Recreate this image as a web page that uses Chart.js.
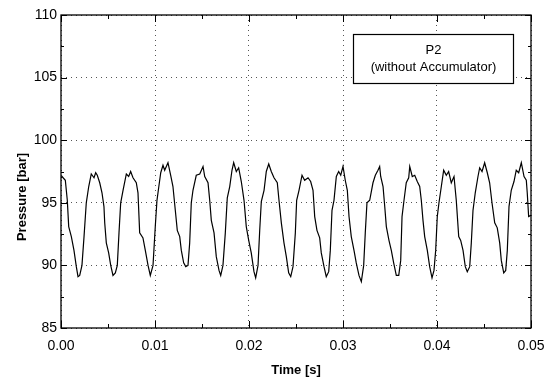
<!DOCTYPE html>
<html>
<head>
<meta charset="utf-8">
<script src="https://cdn.jsdelivr.net/npm/chart.js@4.4.0/dist/chart.umd.min.js"></script>
<style>
  html, body { margin: 0; padding: 0; background: #fff; }
  #wrap { width: 556px; height: 392px; }
</style>
</head>
<body>
<div id="wrap"><canvas id="chart" width="556" height="392"></canvas></div>
<script>
const timeS = [
  0.00000, 0.00011, 0.00046, 0.00067, 0.00082, 0.00110, 0.00138, 0.00163, 0.00181, 0.00199,
  0.00223, 0.00245, 0.00269, 0.00295, 0.00322, 0.00351, 0.00369, 0.00386, 0.00412, 0.00436,
  0.00457, 0.00465, 0.00482, 0.00507, 0.00529, 0.00553, 0.00578, 0.00599, 0.00617, 0.00635,
  0.00660, 0.00695, 0.00720, 0.00741, 0.00766, 0.00801, 0.00819, 0.00837, 0.00872, 0.00897,
  0.00926, 0.00950, 0.00979, 0.01003, 0.01021, 0.01039, 0.01061, 0.01085, 0.01103, 0.01138,
  0.01167, 0.01191, 0.01216, 0.01237, 0.01263, 0.01280, 0.01305, 0.01327, 0.01351, 0.01369,
  0.01386, 0.01404, 0.01439, 0.01476, 0.01511, 0.01529, 0.01564, 0.01582, 0.01599, 0.01628,
  0.01652, 0.01681, 0.01699, 0.01723, 0.01748, 0.01769, 0.01795, 0.01819, 0.01837, 0.01865,
  0.01890, 0.01918, 0.01947, 0.01971, 0.01997, 0.02024, 0.02053, 0.02071, 0.02096, 0.02114,
  0.02131, 0.02160, 0.02184, 0.02210, 0.02237, 0.02266, 0.02301, 0.02319, 0.02344, 0.02372,
  0.02397, 0.02422, 0.02444, 0.02468, 0.02493, 0.02507, 0.02532, 0.02564, 0.02592, 0.02628,
  0.02656, 0.02681, 0.02699, 0.02723, 0.02752, 0.02769, 0.02798, 0.02822, 0.02848, 0.02865,
  0.02883, 0.02904, 0.02929, 0.02954, 0.02976, 0.03000, 0.03024, 0.03046, 0.03064, 0.03088,
  0.03117, 0.03141, 0.03170, 0.03195, 0.03220, 0.03237, 0.03255, 0.03284, 0.03319, 0.03344,
  0.03372, 0.03390, 0.03401, 0.03426, 0.03444, 0.03461, 0.03489, 0.03514, 0.03539, 0.03567,
  0.03593, 0.03614, 0.03628, 0.03649, 0.03673, 0.03699, 0.03710, 0.03737, 0.03763, 0.03790,
  0.03816, 0.03833, 0.03851, 0.03869, 0.03897, 0.03922, 0.03947, 0.03968, 0.03986, 0.04003,
  0.04021, 0.04046, 0.04071, 0.04099, 0.04124, 0.04152, 0.04181, 0.04205, 0.04231, 0.04252,
  0.04277, 0.04301, 0.04322, 0.04348, 0.04365, 0.04383, 0.04407, 0.04436, 0.04454, 0.04479,
  0.04507, 0.04535, 0.04560, 0.04585, 0.04614, 0.04641, 0.04667, 0.04684, 0.04710, 0.04731,
  0.04748, 0.04766, 0.04790, 0.04819, 0.04843, 0.04869, 0.04897, 0.04926, 0.04950, 0.04960,
  0.04975, 0.05000
];
const pressureBar = [
  97.0, 97.1, 96.8, 95.2, 93.1, 92.3, 91.2, 89.9, 89.1, 89.2,
  90.0, 92.3, 95.0, 96.3, 97.3, 97.0, 97.4, 97.2, 96.6, 95.8,
  94.7, 93.4, 91.8, 91.0, 90.0, 89.2, 89.4, 90.0, 92.6, 95.0,
  96.0, 97.3, 97.1, 97.5, 97.0, 96.6, 95.8, 92.6, 92.2, 91.2,
  90.0, 89.2, 90.0, 93.1, 95.2, 96.2, 97.4, 98.0, 97.6, 98.2,
  97.2, 96.3, 94.4, 92.8, 92.3, 91.2, 90.2, 89.9, 90.0, 91.8,
  95.0, 96.0, 97.2, 97.3, 97.9, 97.1, 96.6, 95.2, 93.6, 92.6,
  90.7, 89.6, 89.2, 90.0, 92.6, 95.4, 96.3, 97.6, 98.2, 97.5,
  97.8, 96.7, 95.2, 93.1, 92.0, 91.0, 89.5, 89.0, 90.0, 92.8,
  95.1, 96.0, 97.5, 98.1, 97.5, 97.0, 96.6, 95.2, 93.4, 91.8,
  90.7, 89.4, 89.1, 89.9, 92.6, 95.2, 96.0, 97.2, 96.8, 97.0,
  96.7, 96.0, 93.9, 92.8, 92.2, 91.0, 89.9, 89.1, 89.5, 91.2,
  94.4, 95.2, 97.1, 97.5, 97.2, 97.9, 96.8, 96.0, 93.9, 92.3,
  91.2, 90.2, 89.2, 88.7, 90.0, 92.6, 95.0, 95.2, 96.6, 97.2,
  97.6, 97.9, 97.1, 96.3, 94.7, 93.1, 92.0, 91.2, 90.2, 89.2,
  89.2, 90.4, 93.9, 95.2, 96.6, 97.0, 97.9, 97.1, 97.2, 96.7,
  96.3, 95.2, 93.6, 92.3, 91.2, 89.9, 89.0, 89.6, 91.2, 93.9,
  95.0, 96.3, 97.6, 97.2, 97.5, 96.6, 97.1, 95.2, 92.3, 92.0,
  91.2, 89.9, 89.5, 89.9, 91.8, 94.4, 95.8, 97.1, 97.8, 97.5,
  98.2, 97.4, 96.6, 95.0, 93.4, 93.0, 91.8, 90.4, 89.4, 89.6,
  91.2, 94.7, 96.0, 96.7, 97.6, 97.4, 98.2, 97.1, 96.8, 95.8,
  93.9, 94.0
];

const xMajor = [0, 0.01, 0.02, 0.03, 0.04, 0.05];
const yMajor = [85, 90, 95, 100, 105, 110];
const legendLines = ["P2", "(without Accumulator)"];
const xTitle = "Time [s]";
const yTitle = "Pressure [bar]";

const FONT = "'Liberation Sans', Arial, sans-serif";

// frame, inward ticks, legend box and axis titles
const framePlugin = {
  id: 'frame',
  afterDraw(chart) {
    const { ctx, chartArea: a, scales } = chart;
    const xs = scales.x, ys = scales.y;
    ctx.save();
    ctx.strokeStyle = '#000';
    ctx.lineWidth = 1.3;
    ctx.strokeRect(a.left, a.top, a.right - a.left, a.bottom - a.top);

    ctx.lineWidth = 1;
    ctx.beginPath();
    for (let i = 0; i < xMajor.length; i++) {
      const px = Math.round(xs.getPixelForValue(xMajor[i])) + 0.5;
      ctx.moveTo(px, a.bottom); ctx.lineTo(px, a.bottom - 7);
      ctx.moveTo(px, a.top); ctx.lineTo(px, a.top + 7);
      if (i < xMajor.length - 1) {
        const mx = Math.round(xs.getPixelForValue((xMajor[i] + xMajor[i + 1]) / 2)) + 0.5;
        ctx.moveTo(mx, a.bottom); ctx.lineTo(mx, a.bottom - 4);
        ctx.moveTo(mx, a.top); ctx.lineTo(mx, a.top + 4);
      }
    }
    for (let i = 0; i < yMajor.length; i++) {
      const py = Math.round(ys.getPixelForValue(yMajor[i])) + 0.5;
      ctx.moveTo(a.left, py); ctx.lineTo(a.left + 6, py);
      ctx.moveTo(a.right, py); ctx.lineTo(a.right - 6, py);
      if (i < yMajor.length - 1) {
        const my = Math.round(ys.getPixelForValue((yMajor[i] + yMajor[i + 1]) / 2)) + 0.5;
        ctx.moveTo(a.left, my); ctx.lineTo(a.left + 3, my);
        ctx.moveTo(a.right, my); ctx.lineTo(a.right - 3, my);
      }
    }
    ctx.stroke();

    // legend box
    const bx = 353.5, by = 34.5, bw = 160, bh = 49;
    ctx.fillStyle = '#fff';
    ctx.fillRect(bx, by, bw, bh);
    ctx.lineWidth = 1.2;
    ctx.strokeRect(bx, by, bw, bh);
    ctx.fillStyle = '#000';
    ctx.textAlign = 'center';
    ctx.textBaseline = 'middle';
    ctx.font = '13px ' + FONT;
    ctx.fillText(legendLines[0], bx + bw / 2, by + 16);
    ctx.fillText(legendLines[1], bx + bw / 2, by + 33);

    // axis titles
    ctx.font = 'bold 13px ' + FONT;
    ctx.fillText(xTitle, (a.left + a.right) / 2, 370);
    ctx.translate(22, 197);
    ctx.rotate(-Math.PI / 2);
    ctx.fillText(yTitle, 0, 0);
    ctx.restore();
  }
};

new Chart(document.getElementById('chart'), {
  type: 'line',
  data: {
    datasets: [{
      data: timeS.map((t, i) => ({ x: t, y: pressureBar[i] })),
      borderColor: '#000',
      borderWidth: 1.2,
      pointRadius: 0,
      tension: 0,
      fill: false
    }]
  },
  options: {
    responsive: false,
    animation: false,
    layout: { padding: { left: 0, top: 15, right: 25, bottom: 0 } },
    plugins: { legend: { display: false }, tooltip: { enabled: false } },
    scales: {
      x: {
        type: 'linear',
        min: 0,
        max: 0.05,
        afterFit: s => { s.height = 64; },
        afterBuildTicks: s => { s.ticks = xMajor.map(v => ({ value: v })); },
        ticks: {
          padding: 10,
          color: '#000',
          font: { family: FONT, size: 14 },
          callback: v => v.toFixed(2)
        },
        grid: { color: '#555', drawTicks: false, lineWidth: 1 },
        border: { display: false, dash: [1, 4] }
      },
      y: {
        min: 85,
        max: 110,
        afterFit: s => { s.width = 61; },
        afterBuildTicks: s => { s.ticks = yMajor.map(v => ({ value: v })); },
        ticks: {
          padding: 4,
          color: '#000',
          font: { family: FONT, size: 14 }
        },
        grid: { color: '#555', drawTicks: false, lineWidth: 1 },
        border: { display: false, dash: [1, 4] }
      }
    }
  },
  plugins: [framePlugin]
});
</script>
</body>
</html>
